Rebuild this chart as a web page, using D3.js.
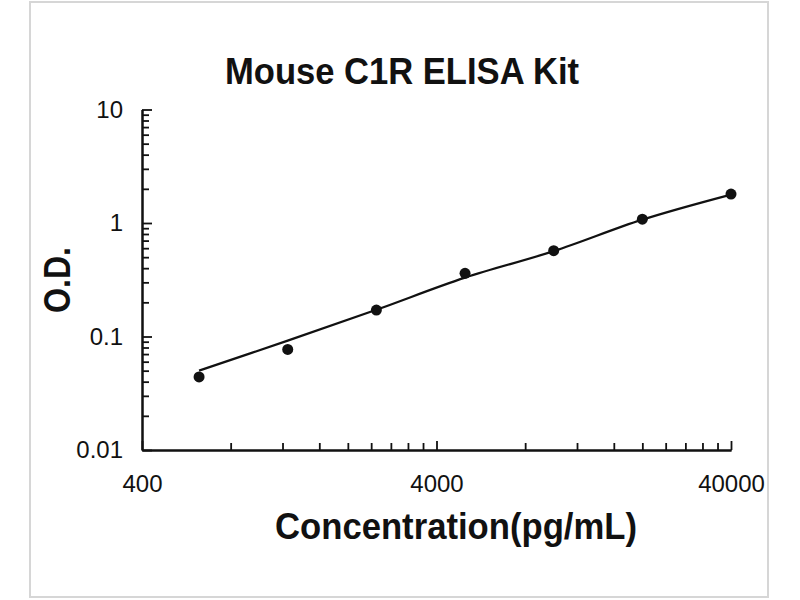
<!DOCTYPE html>
<html>
<head>
<meta charset="utf-8">
<script src="https://cdn.jsdelivr.net/npm/d3@7"></script>
<style>
  body { margin: 0; background: #fff; }
  svg text { fill: #111; }
</style>
</head>
<body>
<svg width="800" height="600"></svg>
<script>
  // standards
  const concentrations = [625, 1250, 2500, 5000, 10000, 20000, 40000];
  const odValues = [0.044, 0.077, 0.171, 0.36, 0.57, 1.08, 1.8];
  // fitted curve, read at each standard
  const fitValues = [0.05, 0.092, 0.172, 0.33, 0.565, 1.07, 1.78];
  const xTickLabels = [400, 4000, 40000];
  const yTickLabels = [0.01, 0.1, 1, 10];

  const svg = d3.select("svg");
  const plotLeft = 142, plotRight = 731, plotTop = 109.5, plotBottom = 450;

  const x = d3.scaleLog().domain([400, 40000]).range([plotLeft, plotRight]);
  const y = d3.scaleLog().domain([0.01, 10]).range([plotBottom, plotTop]);

  // minor ticks: excel style, multiples of the base value
  const xMinor = [];
  [400, 4000].forEach(b => { for (let k = 2; k <= 9; k++) xMinor.push(b * k); });
  const yMinor = [];
  [0.01, 0.1, 1].forEach(b => { for (let k = 2; k <= 9; k++) yMinor.push(b * k); });

  svg.append("rect")
    .attr("x", 30).attr("y", 2)
    .attr("width", 738).attr("height", 595)
    .attr("fill", "none")
    .attr("stroke", "#d6d6d6")
    .attr("stroke-width", 2);

  const xMinorG = svg.append("g")
    .attr("transform", `translate(0,${plotBottom})`)
    .call(d3.axisBottom(x).tickValues(xMinor).tickFormat("").tickSizeInner(-7).tickSizeOuter(0));
  const yMinorG = svg.append("g")
    .attr("transform", `translate(${plotLeft},0)`)
    .call(d3.axisLeft(y).tickValues(yMinor).tickFormat("").tickSizeInner(-7).tickSizeOuter(0));

  const xAxisG = svg.append("g")
    .attr("transform", `translate(0,${plotBottom})`)
    .call(d3.axisBottom(x).tickValues(xTickLabels).tickFormat(d3.format("d"))
      .tickSizeInner(-9).tickSizeOuter(0).tickPadding(25));
  const yAxisG = svg.append("g")
    .attr("transform", `translate(${plotLeft},0)`)
    .call(d3.axisLeft(y).tickValues(yTickLabels).tickFormat(d => String(d))
      .tickSizeInner(-10).tickSizeOuter(0).tickPadding(19));

  svg.selectAll(".domain").attr("stroke", "#111").attr("stroke-width", 2);
  svg.selectAll(".tick line").attr("stroke", "#111").attr("stroke-width", 1.8);
  svg.selectAll(".tick text")
    .attr("font-family", "Liberation Sans, Arial, sans-serif")
    .attr("font-size", 24)
    .attr("fill", "#111");

  const line = d3.line()
    .x((d, i) => x(concentrations[i]))
    .y(d => y(d))
    .curve(d3.curveCatmullRom);

  svg.append("path")
    .datum(fitValues)
    .attr("d", line)
    .attr("fill", "none")
    .attr("stroke", "#111")
    .attr("stroke-width", 2.2);

  svg.append("g")
    .selectAll("circle")
    .data(odValues)
    .join("circle")
    .attr("cx", (d, i) => x(concentrations[i]))
    .attr("cy", d => y(d))
    .attr("r", 5.5)
    .attr("fill", "#111");

  svg.append("text")
    .attr("x", 402).attr("y", 84)
    .attr("text-anchor", "middle")
    .attr("font-family", "Liberation Sans, Arial, sans-serif")
    .attr("font-weight", "bold")
    .attr("font-size", 37)
    .attr("textLength", 354)
    .attr("lengthAdjust", "spacingAndGlyphs")
    .text("Mouse C1R ELISA Kit");

  svg.append("text")
    .attr("x", 456).attr("y", 539)
    .attr("text-anchor", "middle")
    .attr("font-family", "Liberation Sans, Arial, sans-serif")
    .attr("font-weight", "bold")
    .attr("font-size", 36)
    .attr("textLength", 362)
    .attr("lengthAdjust", "spacingAndGlyphs")
    .text("Concentration(pg/mL)");

  svg.append("text")
    .attr("transform", "translate(70,280) rotate(-90)")
    .attr("text-anchor", "middle")
    .attr("font-family", "Liberation Sans, Arial, sans-serif")
    .attr("font-weight", "bold")
    .attr("font-size", 37)
    .attr("textLength", 66)
    .attr("lengthAdjust", "spacingAndGlyphs")
    .text("O.D.");
</script>
</body>
</html>
